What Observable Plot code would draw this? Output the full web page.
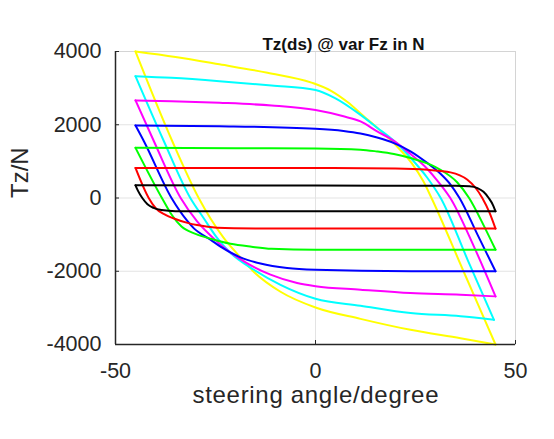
<!DOCTYPE html>
<html>
<head>
<meta charset="utf-8">
<script src="https://cdn.jsdelivr.net/npm/d3@7"></script>
<script src="https://cdn.jsdelivr.net/npm/@observablehq/plot@0.6"></script>
<style>
  html, body { margin: 0; padding: 0; background: #fff; }
  #chart { width: 554px; height: 439px; }
</style>
</head>
<body>
<div id="chart"></div>
<script>
(function() {
  "use strict";

  // ticks and labels
  var xTicks = [-50, 0, 50];
  var yTicks = [-4000, -2000, 0, 2000, 4000];
  var titleText = "Tz(ds) @ var Fz in N";
  var xLabel = "steering angle/degree";
  var yLabel = "Tz/N";

  // one loop per Fz, largest first (drawn first, so smaller ones sit on top)
  var seriesNames = ["loop1", "loop2", "loop3", "loop4", "loop5", "loop6", "loop7"];
  var seriesColors = ["#ffff00", "#00ffff", "#ff00ff", "#0000ff", "#00ff00", "#ff0000", "#000000"];

  // [steering angle, Tz]; each loop = upper + lower branch
  var loop1Up = [[-45, 4000], [-35, 3850], [-24, 3650], [-12, 3420], [-1, 3150], [4, 2920], [8, 2620],
    [12, 2240], [16, 1860], [20, 1450], [24, 960], [27, 450], [29, 0], [37, -2000], [45, -4000]];
  var loop1Down = [[-45, 4000], [-35.8, 1550], [-29.2, 0], [-26.25, -560], [-23, -1080], [-19.6, -1520],
    [-15.4, -2020], [-8.75, -2560], [0, -2990], [11.25, -3300], [23.75, -3600], [36.25, -3830], [45, -4000]];

  var loop2Up = [[-45, 3325], [-36, 3280], [-24, 3190], [-11, 3070], [0, 2950], [5, 2720], [11, 2290],
    [15.4, 1920], [19.6, 1560], [23.75, 1100], [27.9, 560], [31.3, 0], [38, -1680], [44.6, -3325]];
  var loop2Down = [[-45, 3325], [-37.9, 1549], [-31.3, 0], [-27.9, -560], [-24.6, -1090], [-21.25, -1500],
    [-15.4, -1960], [-8.75, -2370], [0, -2750], [11.25, -2940], [23.75, -3140], [36.25, -3230], [44.6, -3325]];

  var loop3Up = [[-45, 2665], [-36, 2645], [-24, 2600], [-11, 2525], [0, 2400], [7, 2230], [11.25, 2090],
    [15.4, 1820], [19.6, 1560], [23.75, 1200], [27.9, 800], [30.5, 470], [33.7, 0], [39.5, -1300], [45, -2686]];
  var loop3Down = [[-45, 2665], [-40.4, 1549], [-33.7, 0], [-29.6, -640], [-25, -1150], [-22.1, -1420],
    [-17.9, -1730], [-11.25, -2093], [-4.6, -2322], [0, -2410], [11.25, -2503], [23.75, -2596], [36.25, -2640], [45, -2686]];

  var loop4Up = [[-45, 1980], [-24, 1960], [0, 1890], [7, 1830], [11.25, 1760], [15.4, 1650], [19.6, 1500],
    [23.75, 1276], [27.9, 960], [31.25, 660], [33.75, 366], [36, 0], [40.5, -1000], [45, -2000]];
  var loop4Down = [[-45, 1980], [-42.9, 1549], [-36, 0], [-32.1, -620], [-30.4, -830], [-26.25, -1137],
    [-23.75, -1330], [-18.75, -1620], [-13.75, -1790], [-7.1, -1913], [0, -1960], [24, -2000], [45, -2003]];

  var loop5Up = [[-45, 1370], [-20, 1360], [0, 1350], [11.25, 1320], [15.4, 1270], [19.6, 1200], [23.75, 1090],
    [28.75, 912], [31.25, 770], [35.4, 430], [38.4, 0], [42.1, -760], [45, -1410]];
  var loop5Down = [[-45, 1370], [-38.4, 0], [-36, -450], [-33.5, -780], [-30, -980], [-26, -1120],
    [-21.25, -1250], [-16, -1330], [-11, -1385], [0, -1410], [45, -1410]];

  var loop6Up = [[-45, 820], [0, 820], [20, 805], [28, 770], [33.75, 700], [37.9, 503], [40, 280],
    [41.7, 0], [43.5, -400], [45, -836]];
  var loop6Down = [[-45, 820], [-41.7, 0], [-40, -273], [-37.5, -460], [-35.4, -560], [-32, -680],
    [-29.6, -740], [-24.6, -810], [-15, -830], [0, -836], [45, -836]];

  var loop7Up = [[-45, 345], [0, 338], [35, 335], [38.5, 320], [40.5, 270], [42, 170], [43.3, 0],
    [44.4, -200], [45, -363]];
  var loop7Down = [[-45, 345], [-44.4, 200], [-43.3, 0], [-42, -170], [-40.5, -270], [-38.5, -330],
    [-35, -360], [0, -363], [45, -363]];

  var loops = {
    loop1: [loop1Up, loop1Down],
    loop2: [loop2Up, loop2Down],
    loop3: [loop3Up, loop3Down],
    loop4: [loop4Up, loop4Down],
    loop5: [loop5Up, loop5Down],
    loop6: [loop6Up, loop6Down],
    loop7: [loop7Up, loop7Down]
  };

  var rows = [];
  seriesNames.forEach(function(name) {
    loops[name].forEach(function(branch, i) {
      branch.forEach(function(p) {
        rows.push({series: name, branch: name + "-" + i, x: p[0], y: p[1]});
      });
    });
  });

  function identity(d) {
    return d;
  }

  var axisColor = "#262626";
  var gridColor = "#e3e3e3";
  var innerWidth = 554 - 115 - 39;
  var innerHeight = 439 - 51 - 95;

  var plot = Plot.plot({
    width: 554,
    height: 439,
    marginLeft: 115,
    marginRight: 39,
    marginTop: 51,
    marginBottom: 95,
    style: {fontFamily: "'Liberation Sans', Arial, sans-serif", background: "#fff", color: axisColor},
    x: {domain: [xTicks[0], xTicks[xTicks.length - 1]], ticks: xTicks},
    y: {domain: [yTicks[0], yTicks[yTicks.length - 1]], ticks: yTicks},
    color: {type: "ordinal", domain: seriesNames, range: seriesColors},
    marks: [
      Plot.gridX(xTicks, {stroke: gridColor, strokeOpacity: 1}),
      Plot.gridY(yTicks, {stroke: gridColor, strokeOpacity: 1}),
      Plot.frame({stroke: "#d4d4d4"}),
      Plot.line(rows, {x: "x", y: "y", z: "branch", stroke: "series", strokeWidth: 2, curve: "monotone-x"}),
      Plot.ruleX([xTicks[0]], {stroke: axisColor, strokeWidth: 1.5}),
      Plot.ruleY([yTicks[0]], {stroke: axisColor, strokeWidth: 1.5}),
      Plot.tickY(yTicks, {y: identity, stroke: axisColor, insetRight: innerWidth - 4}),
      Plot.tickX(xTicks, {x: identity, stroke: axisColor, insetTop: innerHeight - 4}),
      Plot.axisX({ticks: xTicks, tickSize: 0, tickPadding: 18, fontSize: 21.5, fill: axisColor,
        tickFormat: function(d) { return String(d); }, label: null}),
      Plot.axisY({ticks: yTicks, tickSize: 0, tickPadding: 14, fontSize: 21.5, fill: axisColor,
        tickFormat: function(d) { return String(d); }, label: null}),
      Plot.text([titleText], {text: identity, frameAnchor: "top", dx: 28, dy: -14,
        fontSize: 17, fontWeight: "bold", fill: "#111"}),
      Plot.text([xLabel], {text: identity, frameAnchor: "bottom", dy: 58,
        fontSize: 24, fill: axisColor}),
      Plot.text([yLabel], {text: identity, frameAnchor: "left", dx: -95, rotate: -90,
        fontSize: 24, fill: axisColor})
    ]
  });

  // the x label in the source is set a little wider than the font gives
  d3.select(plot).selectAll("text").filter(function() {
    return this.textContent === xLabel;
  }).attr("textLength", 246).attr("lengthAdjust", "spacing");

  document.getElementById("chart").appendChild(plot);
}).call(this);
</script>
</body>
</html>
